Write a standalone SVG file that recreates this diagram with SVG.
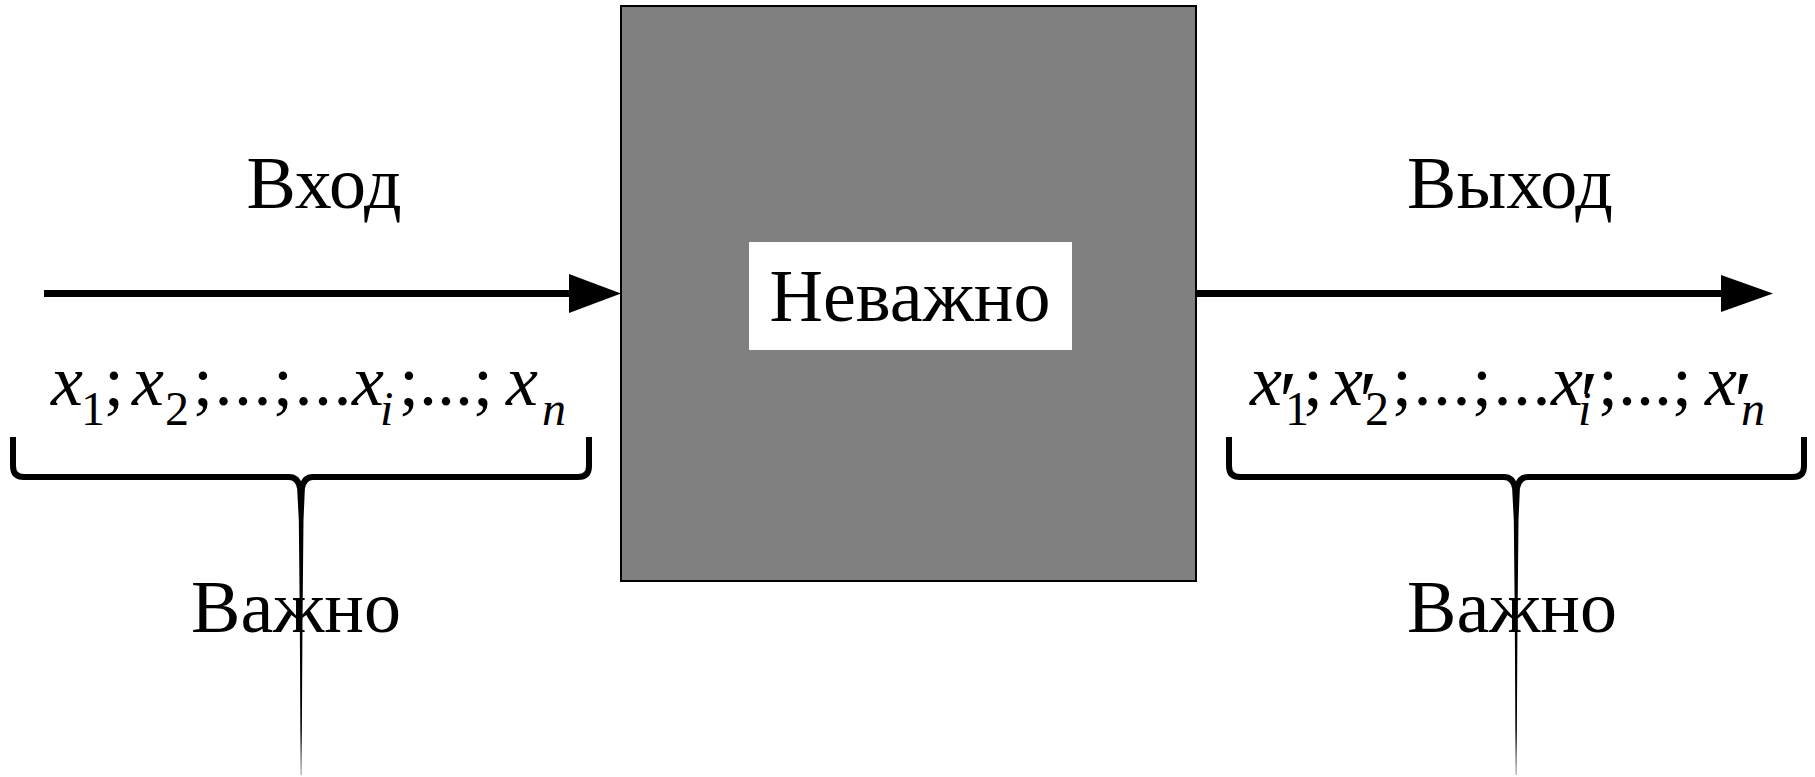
<svg xmlns="http://www.w3.org/2000/svg" width="1815" height="777" viewBox="0 0 1815 777">
<style>
  text { font-family: "Liberation Serif", "Times New Roman", serif; fill: #000; }
  .lbl { font-size: 74px; text-anchor: middle; }
  .mi { font-size: 72px; font-style: italic; }
  .mo { font-size: 72px; }
  .sub { font-size: 48px; }
  .it { font-style: italic; }
  .pr { font-size: 84px; }
  .conn { stroke: #000; stroke-width: 7; fill: none; }
  .brace { stroke: #000; stroke-width: 6; fill: none; stroke-linecap: butt; }
  .head { fill: #000; }
</style>
<defs>
  <linearGradient id="stemFade" x1="0" y1="0" x2="0" y2="1">
    <stop offset="0" stop-color="#000"/>
    <stop offset="0.85" stop-color="#000"/>
    <stop offset="1" stop-color="#999"/>
  </linearGradient>
</defs>
<rect width="1815" height="777" fill="#fff"/>

<g id="connectors">
  <g id="arrow-in">
    <line class="conn" x1="44" y1="293.5" x2="571" y2="293.5"/>
    <polygon class="head" points="569,274 621,293.5 569,313"/>
  </g>
  <g id="arrow-out">
    <line class="conn" x1="1196" y1="293.5" x2="1723" y2="293.5"/>
    <polygon class="head" points="1721,275 1773,293.5 1721,312"/>
  </g>
</g>

<g id="node-blackbox">
  <rect x="621" y="6" width="575" height="575" fill="#808080" stroke="#000" stroke-width="2"/>
  <rect x="749" y="242" width="323" height="108" fill="#fff"/>
  <text class="lbl" x="910" y="321">Неважно</text>
</g>

<g id="label-input">
  <text class="lbl" x="324" y="208">Вход</text>
</g>
<g id="label-output">
  <text class="lbl" x="1510" y="208">Выход</text>
</g>

<g id="formula-input">
  <text class="mi" x="51" y="405">x</text>
  <text class="sub" x="81" y="425">1</text>
  <text class="mo" x="104" y="405">;</text>
  <text class="mi" x="132" y="405">x</text>
  <text class="sub" x="165" y="425">2</text>
  <text class="mo" x="193" y="405" letter-spacing="1.5">;...;...</text>
  <text class="mi" x="352" y="405">x</text>
  <text class="sub it" x="380" y="425">i</text>
  <text class="mo" x="399" y="405">;...;</text>
  <text class="mi" x="506" y="405">x</text>
  <text class="sub it" x="542" y="425">n</text>
</g>

<g id="formula-output">
  <text class="mi" x="1250" y="405">x</text>
  <text class="pr" x="1279" y="430">′</text>
  <text class="sub" x="1285" y="425">1</text>
  <text class="mo" x="1303" y="405">;</text>
  <text class="mi" x="1331" y="405">x</text>
  <text class="pr" x="1359" y="430">′</text>
  <text class="sub" x="1365" y="425">2</text>
  <text class="mo" x="1392" y="405" letter-spacing="1.5">;...;...</text>
  <text class="mi" x="1551" y="405">x</text>
  <text class="pr" x="1580" y="430">′</text>
  <text class="sub it" x="1578" y="425">i</text>
  <text class="mo" x="1598" y="405">;...;</text>
  <text class="mi" x="1705" y="405">x</text>
  <text class="pr" x="1734" y="430">′</text>
  <text class="sub it" x="1741" y="425">n</text>
</g>

<g id="brace-input">
  <path class="brace" d="M13,437 V466 Q13,477 24,477 H289 Q298,477 300,488"/>
  <path class="brace" d="M589,437 V466 Q589,477 578,477 H313 Q304,477 302,488"/>
  <polygon fill="url(#stemFade)" points="297,486 305,486 303.5,520 302.5,620 301.6,775 300.6,775 299.8,620 298.8,520"/>
  <text class="lbl" x="296" y="632">Важно</text>
</g>

<g id="brace-output">
  <path class="brace" d="M1229,437 V466 Q1229,477 1240,477 H1504 Q1513,477 1515,488"/>
  <path class="brace" d="M1804,437 V466 Q1804,477 1793,477 H1528 Q1519,477 1517,488"/>
  <polygon fill="url(#stemFade)" points="1512,486 1520,486 1518.5,520 1517.5,620 1516.6,775 1515.6,775 1514.8,620 1513.8,520"/>
  <text class="lbl" x="1512" y="632">Важно</text>
</g>
</svg>
